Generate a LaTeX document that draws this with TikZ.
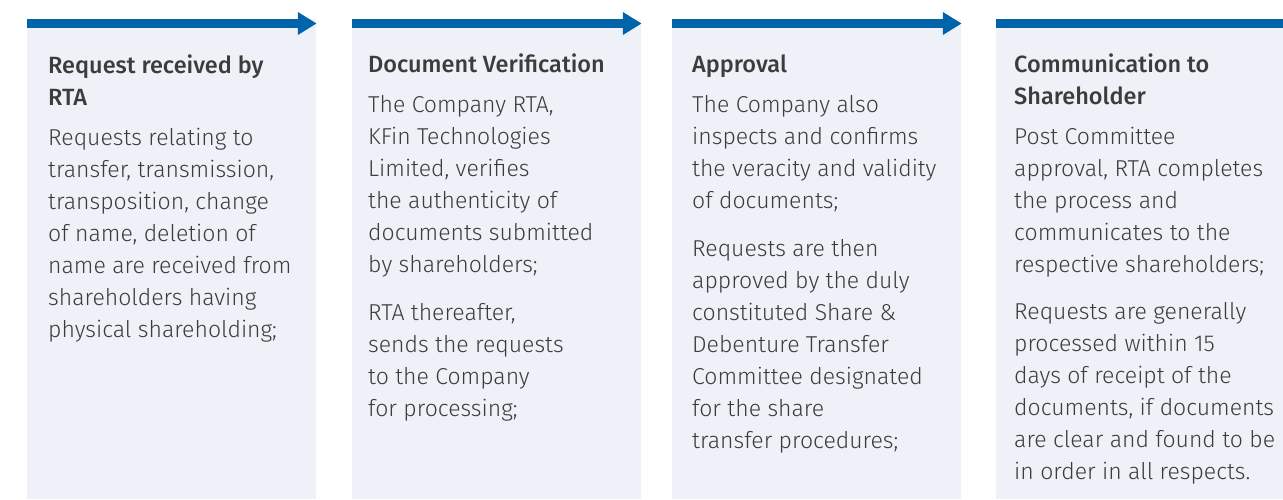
\documentclass[tikz,border=0pt]{standalone}
\usepackage{fontspec}
\usetikzlibrary{calc}
\setmainfont{Fira Sans}[UprightFont=* Light, BoldFont=* Medium]
\definecolor{boxfill}{HTML}{EEF1F8}
\definecolor{barblue}{HTML}{0064AA}
\definecolor{txt}{HTML}{3C3C3C}
\begin{document}
\begin{tikzpicture}[x=1pt,y=-1pt,
  box/.style={fill=boxfill, draw=none, inner sep=0pt, minimum width=289pt, minimum height=480pt, anchor=north west},
  head/.style={anchor=north west, inner sep=0pt, align=left, text=txt, font=\fontsize{23.5}{32}\selectfont\bfseries},
  body/.style={anchor=north west, inner sep=0pt, align=left, text=txt, font=\fontsize{23}{32}\selectfont},
  bar/.style={fill=barblue}]
\useasboundingbox (0,0) rectangle (1283,499);
% boxes
\node[box] (b1) at (27,19) {};
\node[box] (b2) at (352,19) {};
\node[box] (b3) at (672,19) {};
\node[box, minimum width=287pt] (b4) at (996,19) {};
% bars with arrow heads
\foreach \b in {b1,b2,b3}{
  \fill[bar] (\b.north west) rectangle ($(\b.north east)+(-18,9)$);
  \fill[bar] ($(\b.north east)+(-18.5,-7)$) -- ($(\b.north east)+(0,4.5)$) -- ($(\b.north east)+(-18.5,16)$) -- cycle;
}
\fill[bar] (b4.north west) rectangle ($(b4.north east)+(0,9)$);
% box 1
\node[head] (h1) at (48,50.6) {\strut Request received by\\RTA};
\node[body] (p11) at (48,122.6) {\strut Requests relating to\\transfer, transmission,\\transposition, change\\of name, deletion of\\name are received from\\shareholders having\\physical shareholding;};
% box 2
\node[head] (h2) at (368,49.6) {\strut Document Verification};
\node[body] (p21) at (368,89.6) {\strut The Company RTA,\\KFin Technologies\\Limited, verifies\\the authenticity of\\documents submitted\\by shareholders;};
\node[body] (p22) at (368,297.6) {\strut RTA thereafter,\\sends the requests\\to the Company\\for processing;};
% box 3
\node[head] (h3) at (692,49.6) {\strut Approval};
\node[body] (p31) at (692,89.6) {\strut The Company also\\inspects and confirms\\the veracity and validity\\of documents;};
\node[body] (p32) at (692,233.6) {\strut Requests are then\\approved by the duly\\constituted Share \&\\Debenture Transfer\\Committee designated\\for the share\\transfer procedures;};
% box 4
\node[head] (h4) at (1014,49.6) {\strut Communication to\\Shareholder};
\node[body] (p41) at (1014,121.6) {\strut Post Committee\\approval, RTA completes\\the process and\\communicates to the\\respective shareholders;};
\node[body] (p42) at (1014,296.6) {\strut Requests are generally\\processed within 15\\days of receipt of the\\documents, if documents\\are clear and found to be\\in order in all respects.};
\end{tikzpicture}
\end{document}
